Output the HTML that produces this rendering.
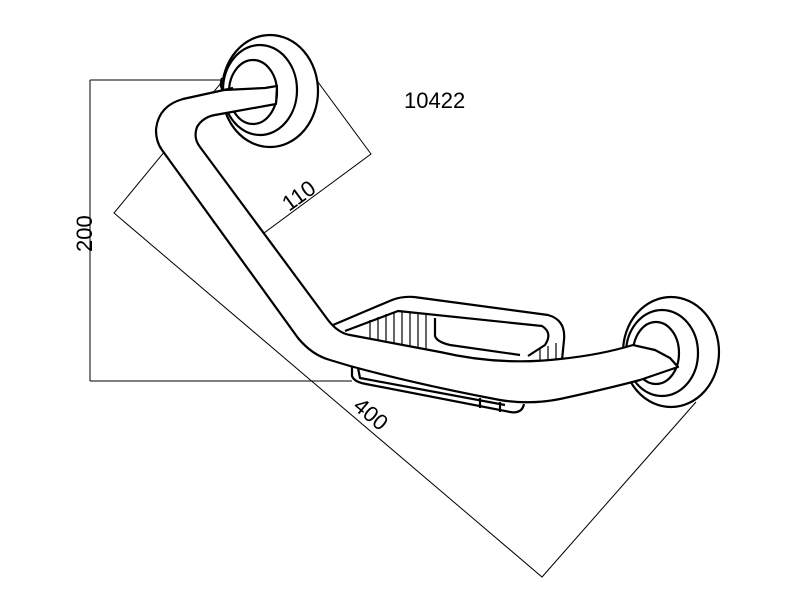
<!DOCTYPE html>
<html><head><meta charset="utf-8"><style>
html,body{margin:0;padding:0;background:#fff;}
svg{display:block;}
text{font-family:"Liberation Sans",sans-serif;fill:#000;}
</style></head><body>
<svg width="790" height="606" viewBox="0 0 790 606" xmlns="http://www.w3.org/2000/svg">
<rect width="790" height="606" fill="#fff"/>
<g stroke="#000" stroke-width="1" fill="none">
<line x1="90" y1="80" x2="316" y2="80"/>
<line x1="90" y1="381" x2="352" y2="381"/>
<line x1="90" y1="80" x2="90" y2="381"/>
<polyline points="287,40 371,154 241,250 213,222"/>
<polyline points="258,38 114,213 542,577 696,402"/>
</g>
<text x="0" y="0" font-size="22" transform="translate(92,252) rotate(-90)">200</text>
<text x="0" y="0" font-size="22" transform="translate(289,212) rotate(-36)">110</text>
<text x="0" y="0" font-size="22" transform="translate(352,408) rotate(40)">400</text>
<text x="404" y="108" font-size="22">10422</text>

<g stroke="#000" stroke-width="2.2" fill="none" stroke-linejoin="round">
<ellipse cx="270" cy="91" rx="48" ry="56" fill="#fff"/>
<ellipse cx="260" cy="90" rx="37" ry="45"/>
<ellipse cx="253" cy="92" rx="24" ry="32"/>
<path d="M222,78 Q219,88 224,90"/>
<ellipse cx="671" cy="352" rx="48" ry="55" fill="#fff"/>
<ellipse cx="662" cy="353" rx="36" ry="43"/>
<ellipse cx="656" cy="353" rx="23" ry="31"/>
<path d="M333,325 L392,300 Q402,296 414,297 L548,315 Q566,320 564,340 L562,360" fill="#fff"/>
<path d="M345,331 L398,311 L542,326 Q553,333 545,345 L528,356"/>
<path d="M435,318 L435,336 Q437,342 450,345 L520,355"/>
<g stroke-width="1.2">
<line x1="370" y1="320" x2="370" y2="340"/><line x1="378" y1="317" x2="378" y2="340"/>
<line x1="386" y1="314" x2="386" y2="342"/><line x1="394" y1="312" x2="394" y2="344"/>
<line x1="402" y1="312" x2="402" y2="346"/><line x1="410" y1="313" x2="410" y2="348"/>
<line x1="418" y1="314" x2="418" y2="350"/><line x1="426" y1="315" x2="426" y2="352"/>
<line x1="540" y1="348" x2="540" y2="362"/><line x1="548" y1="346" x2="548" y2="362"/>
<line x1="556" y1="343" x2="556" y2="362"/>
</g>
<path d="M352,365 L352,376 Q354,382 366,384 L510,412 Q522,414 524,404"/>
<path d="M358,368 L360,378 L505,405"/>
<path d="M480,398 L480,408 M500,402 L500,412"/>
<path d="M224,90 L183,99 Q158,106 156,130 Q156,142 162,150 L298,338 Q312,355 330,360 L350,366 Q420,385 500,400 Q530,405 560,399 Q610,388 640,380 L678,367 L670,358 L655,350 L633,345 Q600,355 560,359 Q500,366 440,352 L350,335 Q338,333 328,320 L200,147 Q193,138 197,127 Q203,117 215,115 L276,104 L277,86 L265,88 Z" fill="#fff"/>
<path d="M224,90 L233,88"/>
</g>
</svg>
</body></html>
